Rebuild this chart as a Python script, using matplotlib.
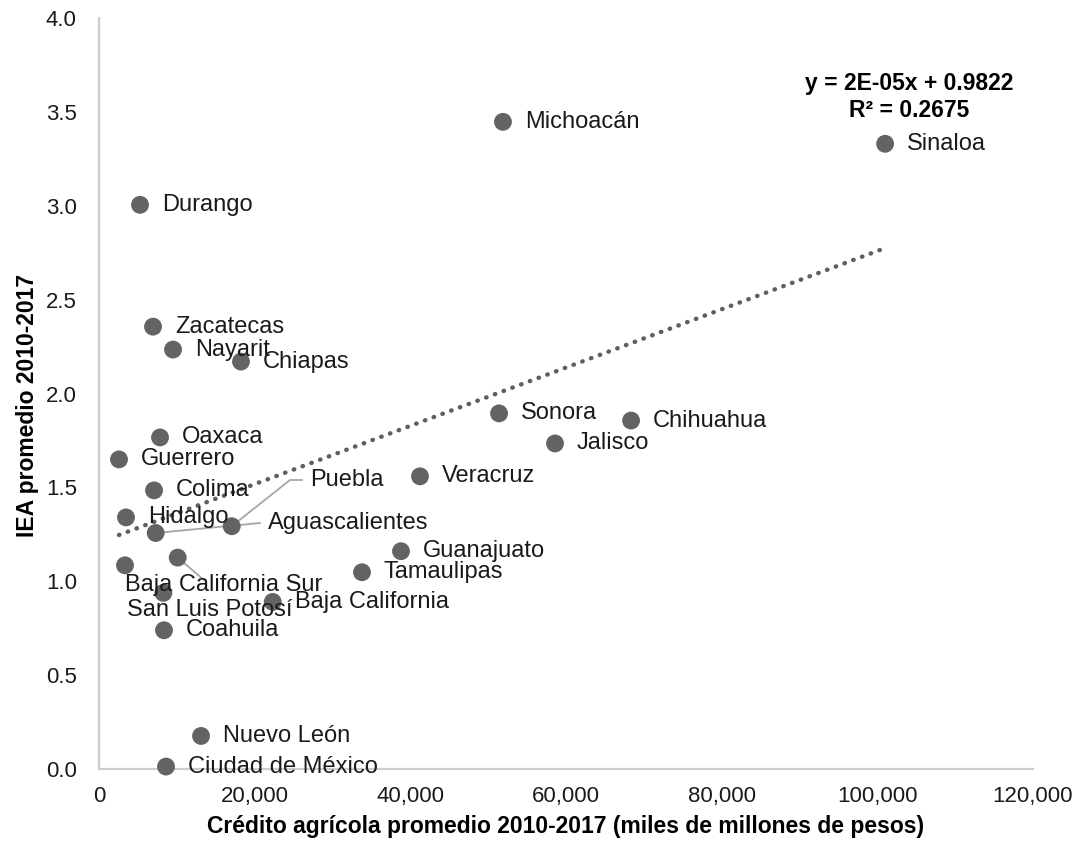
import numpy as np
import matplotlib
matplotlib.use("Agg")
import matplotlib.pyplot as plt
from matplotlib.ticker import FuncFormatter

plt.rcParams['font.family'] = ['Liberation Sans', 'DejaVu Sans']

# Average agricultural credit (thousand million pesos) and IEA by state, 2010-2017
states = ["Michoacán", "Sinaloa", "Durango", "Zacatecas", "Nayarit", "Chiapas",
          "Sonora", "Chihuahua", "Jalisco", "Oaxaca", "Guerrero", "Veracruz",
          "Colima", "Hidalgo", "Puebla", "Aguascalientes", "Guanajuato",
          "Tamaulipas", "", "Baja California Sur", "San Luis Potosí",
          "Baja California", "Coahuila", "Nuevo León", "Ciudad de México"]
credit = [51900, 101000, 5270, 6940, 9510, 18240,
          51400, 68360, 58590, 7840, 2570, 41240,
          7070, 3470, 17050, 7280, 38800,
          33790, 3340, 10110, 8270,
          22320, 8350, 13110, 8610]
iea = [3.447, 3.330, 3.005, 2.356, 2.234, 2.170,
       1.894, 1.856, 1.734, 1.766, 1.649, 1.559,
       1.484, 1.340, 1.293, 1.257, 1.160,
       1.048, 1.085, 1.126, 0.938,
       0.890, 0.739, 0.176, 0.013]

x_ticks = [0, 20000, 40000, 60000, 80000, 100000, 120000]
y_ticks = [0.0, 0.5, 1.0, 1.5, 2.0, 2.5, 3.0, 3.5, 4.0]

equation_text = "y = 2E-05x + 0.9822\nR² = 0.2675"
x_title = "Crédito agrícola promedio 2010-2017 (miles de millones de pesos)"
y_title = "IEA promedio 2010-2017"

W, H, DPI = 1086, 847, 100
X0, X1, Y0, Y1 = 99, 1033, 769, 18   # plot area edges in pixels
fig = plt.figure(figsize=(W / DPI, H / DPI), dpi=DPI)
ax = fig.add_axes([X0 / W, 1 - Y0 / H, (X1 - X0) / W, (Y0 - Y1) / H])
ax.set_xlim(0, 120000)
ax.set_ylim(0, 4.0)

point_color = "#636363"
text_color = "#1a1a1a"
label_size = 17
tick_size = 16

ax.scatter(credit, iea, s=165, color=point_color, zorder=3, clip_on=False,
           edgecolors="none")

# linear trend fitted to the data
xs = np.array(credit, dtype=float)
ys = np.array(iea, dtype=float)
slope, intercept = np.polyfit(xs, ys, 1)
xl = np.array([xs.min(), xs.max()])
ax.plot(xl, slope * xl + intercept, linestyle=(0, (0.1, 2.0)), linewidth=3.2,
        color="#5f5f5f", dash_capstyle="round", zorder=2)

# labels set apart from their point (offset in pixels, +y is up)
moved = {
    "Puebla": (78, 46),
    "Aguascalientes": (112, 10),
    "Baja California Sur": (-53, -27),
    "San Luis Potosí": (-36, -17),
}

for name, xv, yv in zip(states, credit, iea):
    if not name:
        continue
    off = moved.get(name, (22, 0))
    ax.annotate(name, (xv, yv), xytext=off, textcoords="offset pixels",
                fontsize=label_size, color=text_color, ha="left", va="center",
                zorder=4)


def pix_to_data(xp, yp):
    return ((xp - X0) / (X1 - X0) * 120000, (Y0 - yp) / (Y0 - Y1) * 4.0)


# leader lines
lc = "#a6a6a6"
i_pue = states.index("Puebla")
i_agu = states.index("Aguascalientes")
i_bcs = states.index("Baja California Sur")
p1 = pix_to_data(290, 480)
p2 = pix_to_data(302, 480)
ax.plot([credit[i_pue], p1[0], p2[0]], [iea[i_pue], p1[1], p2[1]], color=lc,
        lw=1.3, zorder=2.5)
p3 = pix_to_data(260, 523)
ax.plot([credit[i_agu], p3[0]], [iea[i_agu], p3[1]], color=lc, lw=1.3,
        zorder=2.5)
p4 = pix_to_data(204, 580)
ax.plot([credit[i_bcs], p4[0]], [iea[i_bcs], p4[1]], color=lc, lw=1.3,
        zorder=2.5)

ax.set_xticks(x_ticks)
ax.set_yticks(y_ticks)
ax.xaxis.set_major_formatter(FuncFormatter(lambda v, p: f"{int(v):,}"))
ax.yaxis.set_major_formatter(FuncFormatter(lambda v, p: f"{v:.1f}"))
ax.tick_params(axis="both", length=0, labelsize=tick_size, colors=text_color)
ax.tick_params(axis="y", pad=16)
ax.tick_params(axis="x", pad=12)

for side in ("top", "right"):
    ax.spines[side].set_visible(False)
for side in ("left", "bottom"):
    ax.spines[side].set_color("#cccccc")
    ax.spines[side].set_linewidth(1.6)

fig.text(909 / W, 1 - 97 / H, equation_text, ha="center", va="center",
         fontsize=16.5, fontweight="bold", color="black",
         multialignment="center", linespacing=1.2)

ax.set_xlabel(x_title, fontsize=16.5, fontweight="bold", color="black",
              labelpad=6)
fig.text(28 / W, 1 - 405 / H, y_title, ha="center", va="center",
         rotation=90, fontsize=16.5, fontweight="bold", color="black")

fig.savefig("out.png", dpi=DPI)
